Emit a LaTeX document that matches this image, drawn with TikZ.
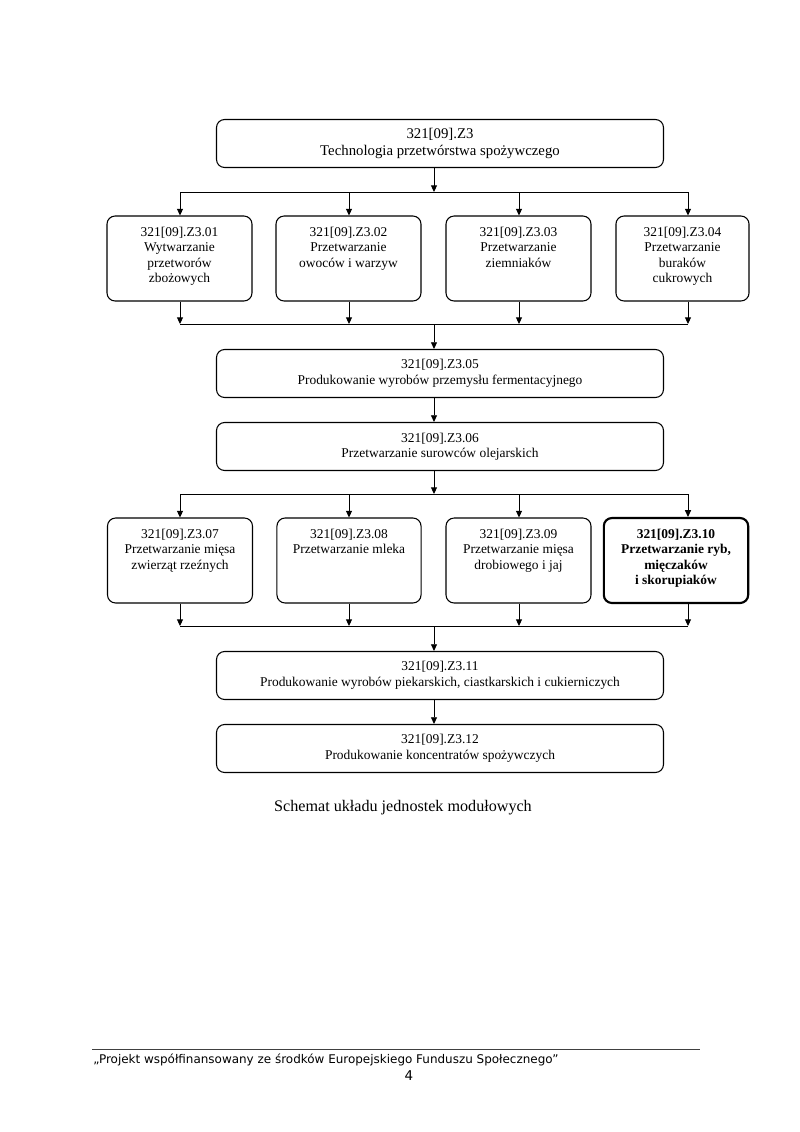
\documentclass[tikz,border=0pt]{standalone}
\usepackage{fontspec}
\setmainfont{Liberation Serif}
\newfontfamily\footfont{DejaVu Sans}
\usetikzlibrary{arrows.meta}
\newcommand\celltext[2]{\parbox[c][63.2pt][t]{#1}{\fontsize{10}{11.5}\selectfont\centering\vspace*{7pt}\strut #2\par}}
\tikzset{
  wide/.style={draw, rounded corners=6pt, line width=0.8pt, minimum width=447*0.744pt,
    minimum height=48*0.744pt, align=center, inner sep=0pt, font=\fontsize{10}{11.5}\selectfont},
  cell/.style={draw, rounded corners=6pt, line width=0.8pt, inner sep=0pt},
  boldcell/.style={cell, line width=1.6pt},
  conn/.style={line width=0.7pt},
  arr/.style={conn, -{Triangle[length=5pt,width=4.5pt]}},
}
\begin{document}
\begin{tikzpicture}[x=0.744pt, y=-0.744pt]
\useasboundingbox (0,0) rectangle (800,1132);
% top
\node[wide, font=\fontsize{11}{12}\selectfont] (top) at (440,143.5) {321[09].Z3\\Technologia przetwórstwa spożywczego};
% row 1
\node[cell] (b1) at (179.5,258.5) {\celltext{107.9pt}{321[09].Z3.01\\Wytwarzanie\\przetworów\\zbożowych}};
\node[cell] (b2) at (348.5,258.5) {\celltext{107.9pt}{321[09].Z3.02\\Przetwarzanie\\owoców i warzyw}};
\node[cell] (b3) at (518.5,258.5) {\celltext{107.9pt}{321[09].Z3.03\\Przetwarzanie\\ziemniaków}};
\node[cell] (b4) at (682.5,258.5) {\celltext{99pt}{321[09].Z3.04\\Przetwarzanie\\buraków\\cukrowych}};
% middle
\node[wide] (b5) at (440,373.5) {321[09].Z3.05\\Produkowanie wyrobów przemysłu fermentacyjnego};
\node[wide] (b6) at (440,446.5) {321[09].Z3.06\\Przetwarzanie surowców olejarskich};
% row 3
\node[cell] (b7) at (180,560.5) {\celltext{107.9pt}{321[09].Z3.07\\Przetwarzanie mięsa\\zwierząt rzeźnych}};
\node[cell] (b8) at (349,560.5) {\celltext{107.2pt}{321[09].Z3.08\\Przetwarzanie mleka}};
\node[cell] (b9) at (518.5,560.5) {\celltext{107.9pt}{321[09].Z3.09\\Przetwarzanie mięsa\\drobiowego i jaj}};
\node[boldcell] (b10) at (676,560.5) {\celltext{107.4pt}{\bfseries 321[09].Z3.10\\Przetwarzanie ryb,\\mięczaków\\i skorupiaków}};
% bottom
\node[wide] (b11) at (440,675.5) {321[09].Z3.11\\Produkowanie wyrobów piekarskich, ciastkarskich i cukierniczych};
\node[wide] (b12) at (440,748.5) {321[09].Z3.12\\Produkowanie koncentratów spożywczych};
% bus coordinates
\coordinate (c0) at (434,192);
\coordinate (c1) at (180,192); \coordinate (c2) at (349,192);
\coordinate (c3) at (519,192); \coordinate (c4) at (688,192);
\coordinate (d0) at (434,324);
\coordinate (d1) at (180,324); \coordinate (d2) at (349,324);
\coordinate (d3) at (519,324); \coordinate (d4) at (688,324);
\coordinate (e0) at (434,494);
\coordinate (e1) at (180,494); \coordinate (e2) at (349,494);
\coordinate (e3) at (519,494); \coordinate (e4) at (688,494);
\coordinate (f0) at (434,626);
\coordinate (f1) at (180,626); \coordinate (f2) at (349,626);
\coordinate (f3) at (519,626); \coordinate (f4) at (688,626);
% connectors
\draw[arr] (top.south -| c0) -- (c0);
\draw[conn] (c1) -- (c4);
\foreach \i in {1,2,3,4} {\draw[arr] (c\i) -- (c\i |- b\i.north);}
\foreach \i in {1,2,3,4} {\draw[arr] (d\i |- b\i.south) -- (d\i);}
\draw[conn] (d1) -- (d4);
\draw[arr] (d0) -- (d0 |- b5.north);
\draw[arr] (b5.south -| d0) -- (b6.north -| d0);
\draw[arr] (b6.south -| e0) -- (e0);
\draw[conn] (e1) -- (e4);
\draw[arr] (e1) -- (e1 |- b7.north);
\draw[arr] (e2) -- (e2 |- b8.north);
\draw[arr] (e3) -- (e3 |- b9.north);
\draw[arr] (e4) -- (e4 |- b10.north);
\draw[arr] (f1 |- b7.south) -- (f1);
\draw[arr] (f2 |- b8.south) -- (f2);
\draw[arr] (f3 |- b9.south) -- (f3);
\draw[arr] (f4 |- b10.south) -- (f4);
\draw[conn] (f1) -- (f4);
\draw[arr] (f0) -- (f0 |- b11.north);
\draw[arr] (b11.south -| f0) -- (b12.north -| f0);
% caption
\node (cap) at (403,808) {\fontsize{12}{14}\selectfont Schemat układu jednostek modułowych};
% footer
\coordinate (fl) at (92,1049); \coordinate (fr) at (700,1049);
\draw[line width=0.6pt, black!75] (fl) -- (fr);
\node[anchor=west, inner sep=0pt] (foot) at (93,1060) {\footfont\fontsize{8.9}{10}\selectfont „Projekt współfinansowany ze środków Europejskiego Funduszu Społecznego”};
\node[inner sep=0pt] (page) at (409,1076) {\footfont\fontsize{10}{11}\selectfont 4};
\end{tikzpicture}
\end{document}
